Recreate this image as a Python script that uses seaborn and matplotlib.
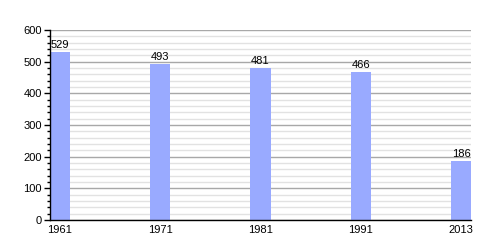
import matplotlib
matplotlib.use("Agg")
import matplotlib.pyplot as plt
import seaborn as sns
import pandas as pd
from matplotlib.ticker import MultipleLocator

years = ["1961", "1971", "1981", "1991", "2013"]
population = [529, 493, 481, 466, 186]

sns.set_theme(style="white")
plt.rcParams['font.family'] = ['Liberation Sans', 'DejaVu Sans']

df = pd.DataFrame({"year": years, "pop": population})

fig = plt.figure(figsize=(5, 2.5), dpi=100)
ax = fig.add_axes([0.1, 0.12, 0.842, 0.76])

sns.barplot(data=df, x="year", y="pop", color="#99aaff", saturation=1,
            width=0.2, ax=ax, zorder=3, linewidth=0, edgecolor="none")

ax.set_xlim(-0.1, 4.1)
ax.set_ylim(0, 600)
ax.yaxis.set_major_locator(MultipleLocator(100))
ax.yaxis.set_minor_locator(MultipleLocator(20))
ax.set_axisbelow(True)
ax.grid(which="major", axis="y", color="#a8a8a8", linewidth=1)
ax.grid(which="minor", axis="y", color="#e2e2e2", linewidth=1)
ax.grid(which="major", axis="x", visible=False)

for s in ["top", "right"]:
    ax.spines[s].set_visible(False)
for s in ["left", "bottom"]:
    ax.spines[s].set_color("black")
    ax.spines[s].set_linewidth(1)
    ax.spines[s].set_zorder(5)

ax.tick_params(axis="y", which="major", left=True, length=4, width=1,
               color="black", labelsize=8, labelcolor="black", pad=2)
ax.tick_params(axis="y", which="minor", left=True, length=2, width=1,
               color="black")
ax.tick_params(axis="x", bottom=False, length=0, labelsize=8,
               labelcolor="black", pad=3.5)

for i, v in enumerate(population):
    ax.annotate(str(v), (i, v), xytext=(0, 1.5), textcoords="offset points",
                ha="center", va="bottom", fontsize=8, color="black")

ax.set_xlabel("")
ax.set_ylabel("")

fig.savefig("out.png", dpi=100, facecolor="white")
